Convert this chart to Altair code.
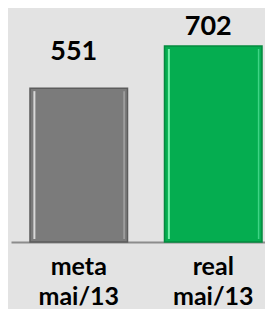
import altair as alt
import pandas as pd

categories = ["meta\nmai/13", "real\nmai/13"]
values = [551, 702]
keys = ["meta", "real"]

df = pd.DataFrame({"cat": categories, "value": values, "key": keys})

x_scale = alt.Scale(paddingInner=0.275, paddingOuter=0.08175, align=0.864)
x = alt.X("cat:N", sort=categories, scale=x_scale,
          axis=alt.Axis(title=None, labelExpr="split(datum.label, '\\n')",
                        labelFont="Lato", labelFontWeight="bold", labelFontSize=25,
                        labelColor="#000000", labelLineHeight=30, labelPadding=12,
                        labelAngle=0, ticks=False, domainColor="#8c8c8c",
                        domainWidth=2, grid=False))
y = alt.Y("value:Q", scale=alt.Scale(domain=[0, 838], nice=False), axis=None)

bars = alt.Chart(df).mark_bar(strokeWidth=1.5).encode(
    x=x, y=y,
    color=alt.Color("key:N", scale=alt.Scale(domain=keys, range=["#7b7b7b", "#05ad50"]),
                    legend=None),
    stroke=alt.Stroke("key:N", scale=alt.Scale(domain=keys, range=["#5c5c5c", "#048a3f"]),
                      legend=None),
)

def stripe(band_pos, colors, w):
    return alt.Chart(df).mark_rule(strokeWidth=w, yOffset=3, y2Offset=-3).encode(
        x=alt.X("cat:N", sort=categories, scale=x_scale, bandPosition=band_pos),
        y=y, y2=alt.datum(0),
        stroke=alt.Stroke("key:N", scale=alt.Scale(domain=keys, range=colors), legend=None),
    )

left_hi = stripe(0.045, ["#d8d8d8", "#72f0a8"], 2)
right_hi = stripe(0.965, ["#a3a3a3", "#3fd485"], 1.5)

def value_label(key, dy):
    return alt.Chart(df).transform_filter(f"datum.key == '{key}'").mark_text(
        font="Lato", fontWeight="bold", fontSize=27, baseline="alphabetic",
        color="#000000", dy=dy, dx=-5).encode(
        x=alt.X("cat:N", sort=categories, scale=x_scale),
        y=y, text=alt.Text("value:Q"),
    )

chart = alt.layer(bars, left_hi, right_hi,
                  value_label("meta", -28), value_label("real", -11)).resolve_scale(
    color="independent", stroke="independent"
).properties(
    width=254, height=234, background="#e3e3e3",
    padding={"left": 3, "top": 0, "right": 0, "bottom": 67},
    autosize=alt.AutoSizeParams(type="none"),
).configure_view(stroke=None)

chart.save("out.html", embed_options={"renderer": "svg", "actions": False})
